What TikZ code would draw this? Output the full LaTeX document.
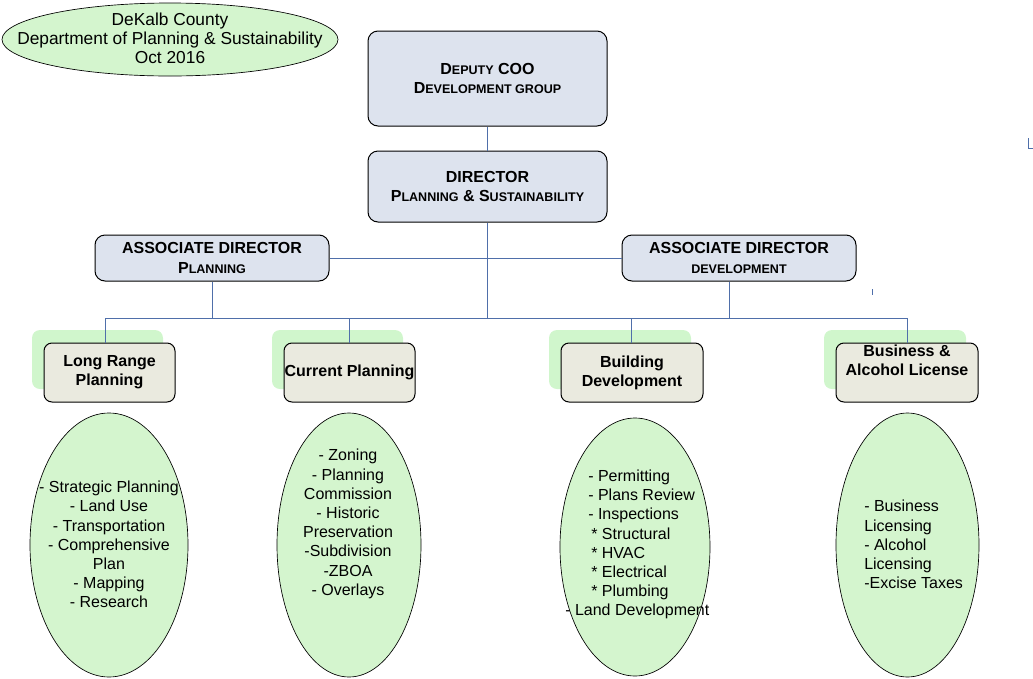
\documentclass[tikz,border=0pt]{standalone}
\usepackage{fontspec}
\setmainfont{Liberation Sans}
\usetikzlibrary{shapes.geometric,shadows}
\definecolor{topfill}{RGB}{221,227,238}
\definecolor{divfill}{RGB}{234,234,223}
\definecolor{shgreen}{RGB}{208,246,204}
\definecolor{egreen}{RGB}{212,245,206}
\definecolor{lineblue}{RGB}{79,111,170}
\newcommand\fsc[1]{{\fontsize{9.4}{11}\selectfont\MakeUppercase{#1}}}
\begin{document}
\begin{tikzpicture}[x=0.75pt,y=-0.75pt,
  topbox/.style={draw=black, fill=topfill, rounded corners=7.5pt, line width=0.75pt,
    align=center, font=\fontsize{12}{14.4}\selectfont\bfseries, inner sep=0pt},
  divbox/.style={draw=black, fill=divfill, rounded corners=6pt, line width=0.75pt,
    align=center, font=\fontsize{12}{14.4}\selectfont\bfseries, inner sep=0pt,
    minimum height=44.25pt,
    drop shadow={shadow xshift=-9pt, shadow yshift=9.75pt, fill=shgreen, opacity=1}},
  ell/.style={ellipse, draw=black, fill=egreen, line width=0.5pt, inner sep=0pt},
  etext/.style={font=\fontsize{12}{14.4}\selectfont, inner sep=0pt},
  conn/.style={draw=lineblue, line width=0.75pt}]
\useasboundingbox (0,0) rectangle (1033,679);

% header
\node[ell, minimum width=252pt, minimum height=54.75pt] (hdr) at (170,39.5) {};
\node[font=\fontsize{13}{14.25}\selectfont, align=center, inner sep=0pt] (hdrt) at (170,38)
  {DeKalb County\\Department of Planning \& Sustainability\\Oct 2016};

% top boxes
\node[topbox, minimum width=179.25pt, minimum height=71.25pt] (dep) at (487.5,78.5)
  {D\fsc{eputy} COO\\D\fsc{evelopment group}};
\node[topbox, minimum width=179.25pt, minimum height=53.25pt] (dir) at (487.5,186.5)
  {DIRECTOR\\P\fsc{lanning} \& S\fsc{ustainability}};
\node[topbox, minimum width=175.5pt, minimum height=34.5pt] (adp) at (212,258)
  {ASSOCIATE DIRECTOR\\P\fsc{lanning}};
\node[topbox, minimum width=175.5pt, minimum height=34.5pt] (add) at (739,258)
  {ASSOCIATE DIRECTOR\\\fsc{development}};

% division boxes
\node[divbox, minimum width=98.25pt] (lr) at (109.5,372.5) {Long Range\\Planning};
\node[divbox, minimum width=98.25pt] (cp) at (349.5,372.5) {Current Planning};
\node[divbox, minimum width=106.5pt] (bd) at (632,372.5) {Building\\Development};
\node[divbox, minimum width=106.5pt] (ba) at (907,372.5) {Business \&\\Alcohol License\\\strut};

% ellipses
\node[ell, minimum width=118.5pt, minimum height=198pt] (e1) at (109,545) {};
\node[ell, minimum width=108pt, minimum height=198pt] (e2) at (349,545) {};
\node[ell, minimum width=112.5pt, minimum height=193.5pt] (e3) at (635,547) {};
\node[ell, minimum width=107.25pt, minimum height=198pt] (e4) at (907.5,545) {};

\node[etext, align=center] (t1) at (109,544.5)
  {- Strategic Planning\\- Land Use\\- Transportation\\- Comprehensive\\Plan\\- Mapping\\- Research};
\node[etext, align=center] (t2) at (348,524)
  {- Zoning\\- Planning\\Commission\\- Historic\\Preservation\\-Subdivision\\-ZBOA\\- Overlays};
\node[etext, align=left, anchor=west] (t3) at (565,544.5)
  {\hspace*{17.25pt}- Permitting\\\hspace*{17.25pt}- Plans Review\\\hspace*{17.25pt}- Inspections\\
   \hspace*{19.5pt}* Structural\\\hspace*{19.5pt}* HVAC\\\hspace*{19.5pt}* Electrical\\
   \hspace*{19.5pt}* Plumbing\\- Land Development};
\node[etext, align=left, anchor=west] (t4) at (864,544.5)
  {- Business\\Licensing\\- Alcohol\\Licensing\\-Excise Taxes};

% connectors
\coordinate (busL) at (105,318);
\coordinate (busR) at (907,318);
\draw[conn] (dep) -- (dir);
\draw[conn] (dir.south) -- (dir.south |- busL);
\draw[conn] (adp.east) -- (add.west);
\draw[conn] (adp.south) -- (adp.south |- busL);
\draw[conn] ([xshift=-7.5pt]add.south) -- ([xshift=-7.5pt]add.south |- busL);
\draw[conn] (busL) -- (busR);
\draw[conn] (busL) -- (busL |- lr.north);
\draw[conn] (cp.north |- busL) -- (cp.north);
\draw[conn] ([xshift=-0.75pt]bd.north |- busL) -- ([xshift=-0.75pt]bd.north);
\draw[conn] (busR) -- (ba.north);

% stray marks
\draw[conn, line width=0.5pt] (872,289) -- (872,295);
\draw[conn, line width=0.5pt] (1028,138) -- (1028,148) -- (1033,148);
\end{tikzpicture}
\end{document}
